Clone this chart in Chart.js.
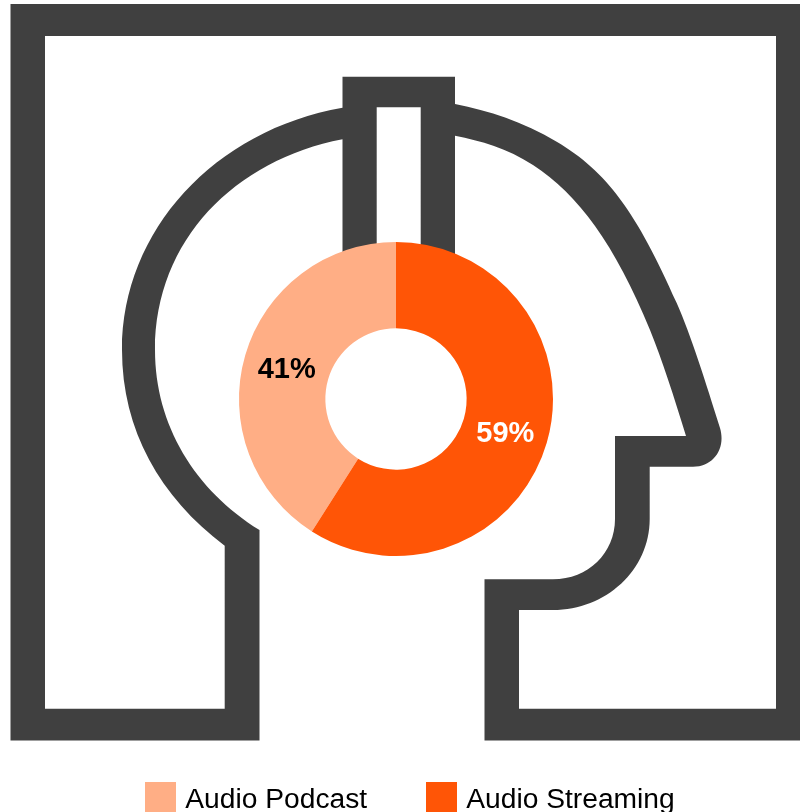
<!DOCTYPE html>
<html>
<head>
<meta charset="utf-8">
<title>Audio Podcast vs Audio Streaming</title>
<script src="https://cdn.jsdelivr.net/npm/chart.js@4"></script>
<style>
  html, body { margin: 0; padding: 0; background: #fff; overflow: hidden; }
  #wrap { position: relative; width: 800px; height: 812px; overflow: hidden; }
  #legend span { position: absolute; white-space: nowrap; font: 28.2px "Liberation Sans", Arial, sans-serif; color: #000; }
  #legend i { position: absolute; display: block; width: 31px; height: 30px; top: 782px; }
</style>
</head>
<body>
<div id="wrap">
  <canvas id="donut" width="800" height="812"></canvas>
  <div id="legend"></div>
</div>
<script>
// Chart data
const categories = ['Audio Podcast', 'Audio Streaming'];
const shares = [41, 59];
const sliceColors = ['#FFAE85', '#FF5506'];
const labelColors = ['#000000', '#ffffff'];
const iconColor = '#404040';

// Head with headphones drawn behind the doughnut
const headIcon = {
  id: 'headIcon',
  beforeDatasetsDraw(chart) {
    const c = chart.ctx;
    c.save();
    c.fillStyle = iconColor;
    c.beginPath();
    // outside of the frame, then the inside of the head
    c.moveTo(10.5, 4);
    c.lineTo(801, 4);
    c.lineTo(801, 740.5);
    c.lineTo(484.5, 740.5);
    c.lineTo(484.5, 579.3);
    c.lineTo(553, 579.3);
    c.bezierCurveTo(588, 579.3, 615, 553, 615, 519);
    c.lineTo(615, 436);
    c.lineTo(686, 436);
    c.bezierCurveTo(674, 397.1, 662, 359.4, 650, 330);
    c.bezierCurveTo(615, 244.25, 578, 194.25, 533, 165);
    c.bezierCurveTo(507, 148.1, 481, 140.9, 455, 135.7);
    c.lineTo(455, 270);
    c.lineTo(420.7, 270);
    c.lineTo(420.7, 107.3);
    c.lineTo(376.7, 107.3);
    c.lineTo(376.7, 270);
    c.lineTo(342.5, 270);
    c.lineTo(342.5, 139.3);
    c.bezierCurveTo(235, 160, 155, 240, 155, 350);
    c.bezierCurveTo(155, 425, 195, 490, 259.5, 530);
    c.lineTo(259.5, 740.5);
    c.lineTo(10.5, 740.5);
    c.closePath();
    // white area between frame and head
    c.moveTo(45, 36);
    c.lineTo(45, 708.7);
    c.lineTo(224.7, 708.7);
    c.lineTo(224.7, 545.7);
    c.bezierCurveTo(160, 497, 122, 430, 122, 350);
    c.bezierCurveTo(122, 230, 215, 130, 342.5, 107.7);
    c.lineTo(342.5, 76.7);
    c.lineTo(455, 76.7);
    c.lineTo(455, 104);
    c.bezierCurveTo(489, 110.8, 522.7, 121.6, 556.7, 141.7);
    c.bezierCurveTo(606.7, 171.2, 636.7, 212.2, 676.7, 303);
    c.bezierCurveTo(691.1, 335.7, 705.6, 381.9, 720, 428);
    c.bezierCurveTo(726, 448, 714, 466.7, 693, 466.7);
    c.lineTo(649.7, 466.7);
    c.lineTo(649.7, 519);
    c.bezierCurveTo(649.7, 570, 606, 610, 553, 610);
    c.lineTo(519, 610);
    c.lineTo(519, 708.7);
    c.lineTo(776, 708.7);
    c.lineTo(776, 36);
    c.closePath();
    c.fill('evenodd');
    c.restore();
  }
};

// Percent labels in the middle of each slice
const sliceLabels = {
  id: 'sliceLabels',
  afterDatasetsDraw(chart) {
    const c = chart.ctx;
    const meta = chart.getDatasetMeta(0);
    c.save();
    c.font = 'bold 29px "Liberation Sans", Arial, sans-serif';
    c.textAlign = 'center';
    c.textBaseline = 'middle';
    meta.data.forEach((arc, i) => {
      const p = arc.getCenterPoint();
      c.fillStyle = labelColors[i];
      c.fillText(shares[i] + '%', p.x, p.y + 3);
    });
    c.restore();
  }
};

// Podcast slice ends at 12 o'clock, so it starts after the streaming share
const startAngle = shares[1] / (shares[0] + shares[1]) * 360;

new Chart(document.getElementById('donut').getContext('2d'), {
  type: 'doughnut',
  data: {
    labels: categories,
    datasets: [{
      data: shares,
      backgroundColor: sliceColors,
      borderWidth: 0
    }]
  },
  options: {
    responsive: false,
    animation: false,
    radius: 157,
    cutout: '45%',
    rotation: startAngle,
    layout: { padding: { left: 0, right: 8, top: 0, bottom: 14 } },
    plugins: {
      legend: { display: false },
      tooltip: { enabled: false }
    }
  },
  plugins: [headIcon, sliceLabels]
});

// Legend as html, the gap between box and text is tighter than the built in one
const legend = document.getElementById('legend');
const legendBoxX = [145, 426];
categories.forEach((name, i) => {
  const box = document.createElement('i');
  box.style.left = legendBoxX[i] + 'px';
  box.style.background = sliceColors[i];
  legend.appendChild(box);
  const text = document.createElement('span');
  text.textContent = name;
  text.style.left = (legendBoxX[i] + 40.3) + 'px';
  text.style.top = '782px';
  legend.appendChild(text);
});
</script>
</body>
</html>
